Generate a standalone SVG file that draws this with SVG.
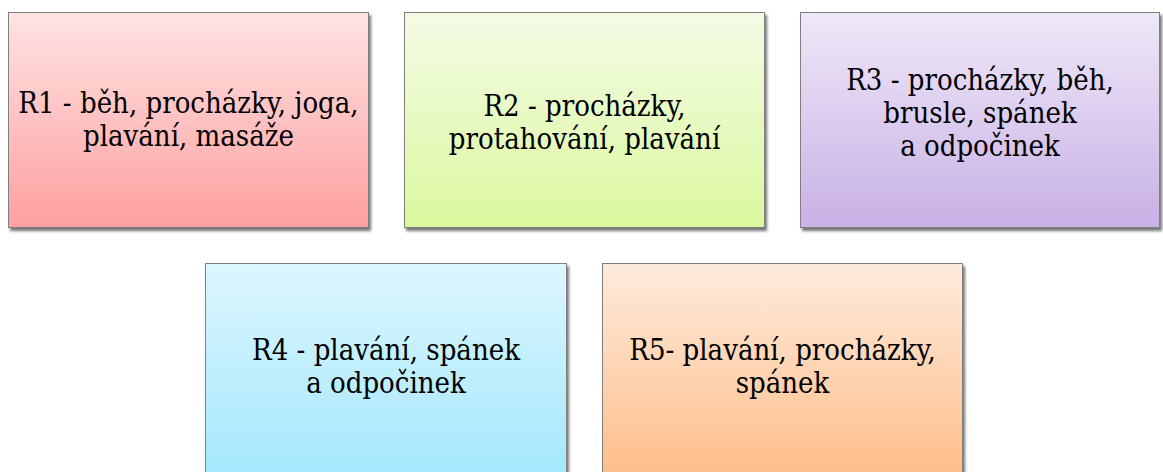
<svg xmlns="http://www.w3.org/2000/svg" width="1163" height="472" viewBox="0 0 1163 472">
  <style>
    .box { stroke: #7f7f7f; stroke-width: 1; filter: url(#shadow); }
    .label { font-family: "DejaVu Serif Condensed", "DejaVu Serif", serif; font-stretch: condensed; font-size: 29px; fill: #000000; text-anchor: middle; }
  </style>
  <defs>
    <filter id="shadow" x="-5%" y="-5%" width="115%" height="115%">
      <feGaussianBlur in="SourceAlpha" stdDeviation="1.6"/>
      <feOffset dx="2" dy="2.5" result="blur"/>
      <feComponentTransfer><feFuncA type="linear" slope="0.55"/></feComponentTransfer>
      <feMerge><feMergeNode/><feMergeNode in="SourceGraphic"/></feMerge>
    </filter>
    <linearGradient id="gRed" x1="0" y1="0" x2="0" y2="1">
      <stop offset="0" stop-color="#ffe3e3"/>
      <stop offset="1" stop-color="#ffa0a0"/>
    </linearGradient>
    <linearGradient id="gGreen" x1="0" y1="0" x2="0" y2="1">
      <stop offset="0" stop-color="#f4fbe6"/>
      <stop offset="1" stop-color="#dbf89e"/>
    </linearGradient>
    <linearGradient id="gViolet" x1="0" y1="0" x2="0" y2="1">
      <stop offset="0" stop-color="#efe8f8"/>
      <stop offset="1" stop-color="#c8b1e6"/>
    </linearGradient>
    <linearGradient id="gBlue" x1="0" y1="0" x2="0" y2="1">
      <stop offset="0" stop-color="#ddf6fe"/>
      <stop offset="1" stop-color="#a3e7fd"/>
    </linearGradient>
    <linearGradient id="gOrange" x1="0" y1="0" x2="0" y2="1">
      <stop offset="0" stop-color="#feebdc"/>
      <stop offset="1" stop-color="#ffbd88"/>
    </linearGradient>
  </defs>

  <rect width="1163" height="472" fill="#ffffff"/>

  <g id="connectors"/>

  <g id="r1">
    <rect class="box" x="8.5" y="12.5" width="360" height="215" fill="url(#gRed)"/>
    <text class="label" x="188.5"><tspan x="188.5" y="113">R1 - běh, procházky, joga,</tspan><tspan x="188.5" y="146">plavání, masáže</tspan></text>
  </g>

  <g id="r2">
    <rect class="box" x="404.5" y="12.5" width="360" height="215" fill="url(#gGreen)"/>
    <text class="label" x="584.5"><tspan x="584.5" y="116">R2 - procházky,</tspan><tspan x="584.5" y="149">protahování, plavání</tspan></text>
  </g>

  <g id="r3">
    <rect class="box" x="800.5" y="12.5" width="359" height="215" fill="url(#gViolet)"/>
    <text class="label" x="980"><tspan x="980" y="90">R3 - procházky, běh,</tspan><tspan x="980" y="123">brusle, spánek</tspan><tspan x="980" y="156">a odpočinek</tspan></text>
  </g>

  <g id="r4">
    <rect class="box" x="205.5" y="263.5" width="361" height="216" fill="url(#gBlue)"/>
    <text class="label" x="386"><tspan x="386" y="360">R4 - plavání, spánek</tspan><tspan x="386" y="393">a odpočinek</tspan></text>
  </g>

  <g id="r5">
    <rect class="box" x="602.5" y="263.5" width="360" height="216" fill="url(#gOrange)"/>
    <text class="label" x="782.5"><tspan x="782.5" y="360">R5- plavání, procházky,</tspan><tspan x="782.5" y="393">spánek</tspan></text>
  </g>
</svg>
